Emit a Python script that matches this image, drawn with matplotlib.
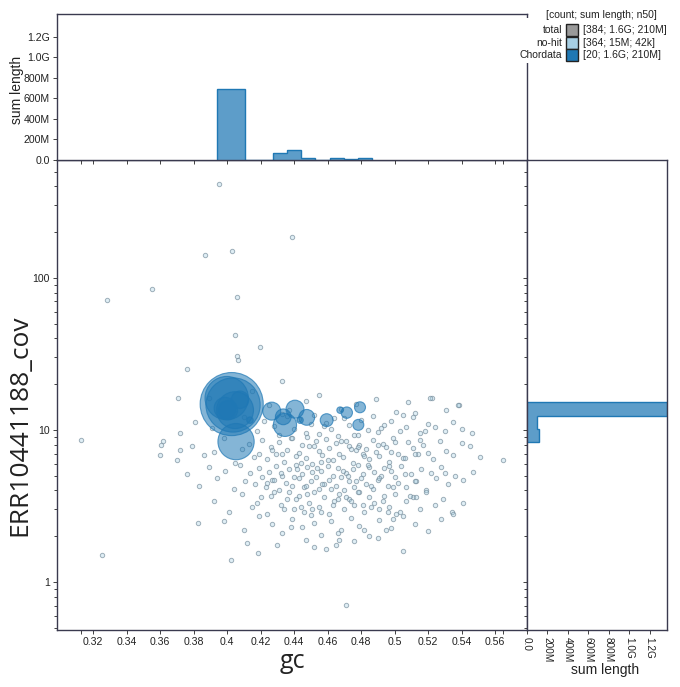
import matplotlib.pyplot as plt
import numpy as np
from matplotlib.patches import Rectangle
from matplotlib.ticker import FixedLocator, FuncFormatter, LogLocator, NullFormatter

plt.rcParams['font.family'] = ['Liberation Sans', 'DejaVu Sans']

# ---------------- data ----------------
# Chordata contigs: gc, coverage, length (bp)
chordata_gc = [0.4028, 0.4036, 0.3998, 0.4048, 0.4054, 0.4267, 0.4346, 0.4336, 0.4406, 0.4476,
               0.4595, 0.4715, 0.4794, 0.4784, 0.3988, 0.4078, 0.4436, 0.4137, 0.4006, 0.4675]
chordata_cov = [14.8, 14.6, 16.2, 13.5, 8.38, 13.3, 10.8, 12.2, 13.7, 12.1,
                11.6, 13.0, 14.1, 10.8, 13.9, 15.8, 11.6, 11.6, 13.5, 13.5]
chordata_len = [430e6, 318e6, 203e6, 147e6, 142e6, 35e6, 58e6, 27e6, 35e6, 27e6,
                18e6, 14e6, 13e6, 13e6, 51e6, 33e6, 4.5e6, 4.5e6, 40e6, 4.5e6]

# no-hit contigs: gc and coverage
nohit_gc = [
    0.3952, 0.403, 0.4388, 0.3869, 0.3552, 0.3284, 0.406, 0.4048, 0.406, 0.4066,
    0.4197, 0.3761, 0.3128, 0.3254, 0.471, 0.4328, 0.5224, 0.5385, 0.5648, 0.3606,
    0.360, 0.3719, 0.3827, 0.4185, 0.4669, 0.465, 0.4949, 0.5343, 0.4024, 0.3707,
    0.425, 0.447, 0.468, 0.489, 0.501, 0.512, 0.521, 0.538, 0.455, 0.389,
    0.415, 0.437, 0.477, 0.508, 0.531,
    0.372, 0.381, 0.391, 0.41, 0.418, 0.422, 0.428, 0.431, 0.436, 0.44,
    0.443, 0.447, 0.45, 0.452, 0.455, 0.459, 0.462, 0.466, 0.47, 0.473,
    0.476, 0.48, 0.484, 0.487, 0.49, 0.494, 0.498, 0.503, 0.507, 0.511,
    0.515, 0.52, 0.524, 0.53, 0.535, 0.54, 0.546, 0.433, 0.448, 0.458,
    0.464, 0.478, 0.492, 0.505, 0.518,
    0.392, 0.362, 0.37, 0.379, 0.386, 0.398, 0.405, 0.409, 0.413, 0.416,
    0.419, 0.421, 0.424, 0.426, 0.429, 0.431, 0.434, 0.436, 0.438, 0.441,
    0.443, 0.445, 0.447, 0.449, 0.451, 0.453, 0.455, 0.457, 0.459, 0.461,
    0.463, 0.465, 0.467, 0.469, 0.471, 0.473, 0.475, 0.477, 0.479, 0.481,
    0.483, 0.485, 0.487, 0.489, 0.491, 0.493, 0.495, 0.497, 0.499, 0.502,
    0.505, 0.508, 0.511, 0.514, 0.517, 0.52, 0.523, 0.527, 0.531, 0.535,
    0.54, 0.545, 0.551, 0.427, 0.439, 0.444, 0.452, 0.46, 0.468, 0.474,
    0.482, 0.49, 0.498, 0.506, 0.515, 0.433, 0.456, 0.478, 0.5, 0.512,
    0.376, 0.383, 0.389, 0.394, 0.399, 0.404, 0.408, 0.411, 0.414, 0.417,
    0.419, 0.421, 0.423, 0.425, 0.427, 0.429, 0.431, 0.433, 0.435, 0.437,
    0.439, 0.441, 0.443, 0.445, 0.446, 0.448, 0.45, 0.451, 0.453, 0.455,
    0.456, 0.458, 0.46, 0.461, 0.463, 0.465, 0.466, 0.468, 0.47, 0.471,
    0.473, 0.475, 0.476, 0.478, 0.48, 0.481, 0.483, 0.485, 0.487, 0.488,
    0.49, 0.492, 0.494, 0.496, 0.498, 0.5, 0.502, 0.504, 0.507, 0.51,
    0.513, 0.516, 0.519, 0.522, 0.525, 0.528, 0.532, 0.536, 0.541, 0.547,
    0.424, 0.432, 0.44, 0.447, 0.454, 0.462, 0.469, 0.477, 0.484, 0.491,
    0.499, 0.506, 0.428, 0.442, 0.457, 0.472, 0.486, 0.497, 0.512, 0.53,
    0.392, 0.401, 0.409, 0.415, 0.42, 0.424, 0.428, 0.432, 0.436, 0.44,
    0.443, 0.446, 0.449, 0.452, 0.455, 0.458, 0.461, 0.464, 0.467, 0.47,
    0.473, 0.476, 0.479, 0.482, 0.485, 0.488, 0.491, 0.494, 0.497, 0.5,
    0.503, 0.507, 0.511, 0.515, 0.519, 0.524, 0.529, 0.535, 0.541, 0.426,
    0.434, 0.441, 0.448, 0.456, 0.463, 0.471, 0.478, 0.486, 0.493, 0.501,
    0.509, 0.418, 0.437, 0.451, 0.466, 0.481, 0.496, 0.513, 0.444, 0.474,
    0.398, 0.41, 0.419, 0.427, 0.433, 0.439, 0.445, 0.45, 0.456, 0.462,
    0.468, 0.474, 0.479, 0.485, 0.491, 0.498, 0.505, 0.512, 0.52, 0.528,
    0.438, 0.452, 0.466, 0.482, 0.499,
    0.412, 0.447, 0.459, 0.476, 0.452, 0.49, 0.43, 0.505,
]
nohit_cov = [
    415, 150, 186, 141, 84.7, 71.6, 75, 42, 30.7, 28.9,
    35, 25.2, 8.6, 1.51, 0.706, 21, 16.2, 14.6, 6.36, 7.95,
    6.85, 7.4, 2.44, 1.55, 1.89, 1.75, 2.2, 2.9, 1.4, 16.2,
    14.5, 15.5, 13.8, 16.0, 13.2, 12.9, 16.3, 14.5, 17.0, 16.2,
    18.0, 13.5, 14.8, 15.2, 13.6,
    9.5, 11.2, 10.3, 12.1, 9.8, 11.5, 10.6, 9.2, 12.4, 10.1,
    11.8, 9.6, 10.9, 12.6, 9.4, 11.1, 10.2, 9.1, 12.0, 10.7,
    9.3, 11.6, 10.0, 12.3, 9.7, 10.8, 11.4, 9.9, 10.4, 12.2,
    9.5, 11.0, 10.5, 9.8, 11.3, 10.1, 9.6, 12.7, 9.0, 10.6,
    11.9, 9.2, 10.3, 12.5, 9.9,
    7.2, 8.5, 6.3, 7.9, 6.8, 8.8, 6.1, 7.5, 8.1, 6.6,
    7.0, 8.6, 6.4, 7.7, 6.9, 8.3, 6.2, 7.4, 8.9, 6.7,
    7.1, 8.0, 6.5, 7.8, 6.0, 8.4, 7.3, 6.8, 8.7, 7.6,
    6.3, 8.2, 7.0, 6.6, 8.5, 7.9, 6.1, 7.4, 8.0, 6.9,
    7.5, 6.4, 8.6, 7.2, 6.7, 8.1, 7.7, 6.2, 8.8, 7.0,
    6.5, 8.3, 7.6, 6.9, 8.0, 7.1, 6.4, 8.5, 7.3, 6.8,
    8.2, 7.8, 6.6, 7.4, 8.9, 6.1, 7.9, 6.3, 8.4, 7.5,
    6.7, 8.0, 7.2, 6.5, 8.6, 7.0, 6.2, 7.7, 8.3, 6.9,
    5.1, 4.3, 5.7, 4.8, 5.4, 4.1, 5.9, 4.6, 5.2, 4.4,
    5.6, 4.9, 4.2, 5.3, 4.7, 5.8, 4.0, 5.0, 4.5, 5.5,
    4.3, 5.9, 4.8, 5.1, 4.2, 5.7, 4.6, 5.3, 4.9, 4.1,
    5.4, 4.4, 5.8, 4.7, 5.0, 4.3, 5.6, 4.9, 4.0, 5.2,
    4.6, 5.5, 4.2, 5.9, 4.8, 5.1, 4.4, 5.7, 4.1, 5.3,
    4.7, 5.0, 5.6, 4.3, 5.4, 4.9, 4.5, 5.8, 4.2, 5.1,
    4.6, 5.5, 4.0, 5.2, 4.8, 5.7, 4.4, 5.0, 4.7, 5.3,
    4.5, 5.2, 4.9, 4.3, 5.6, 4.1, 5.4, 4.6, 5.9, 4.8,
    4.2, 5.1, 4.7, 5.5, 4.4, 5.0, 4.3, 5.8, 4.6, 5.2,
    3.4, 2.9, 3.8, 3.1, 3.6, 2.8, 3.9, 3.2, 3.5, 3.0,
    3.7, 2.9, 3.3, 3.9, 3.1, 3.6, 2.8, 3.4, 3.8, 3.0,
    3.5, 3.2, 3.9, 2.9, 3.6, 3.3, 3.0, 3.7, 3.1, 3.8,
    2.9, 3.4, 3.6, 3.0, 3.9, 3.2, 3.5, 2.8, 3.3, 3.7,
    3.0, 3.5, 3.8, 2.9, 3.2, 3.6, 3.9, 3.1, 3.4, 2.8,
    3.7, 3.3, 3.9, 3.0, 3.5, 3.2, 2.9, 3.6, 3.1, 3.4,
    2.5, 2.2, 2.7, 2.4, 2.1, 2.6, 2.3, 2.75, 2.05, 2.5,
    2.2, 2.65, 2.35, 2.0, 2.55, 2.25, 2.7, 2.4, 2.15, 2.6,
    2.3, 2.45, 2.1, 2.2, 2.6,
    1.8, 1.9, 1.65, 1.85, 1.7, 1.95, 1.75, 1.6,
]

# sum-length histograms (bins)
gc_bin_edges = [0.394, 0.4024, 0.4108, 0.4192, 0.4276, 0.436, 0.4444,
                0.4528, 0.4612, 0.4696, 0.478, 0.4864]
gc_bin_len = [695e6, 695e6, 0, 0, 71e6, 97e6, 20e6, 0, 15e6, 10e6, 20e6]

cov_bin_edges = [8.34, 10.15, 12.4, 15.3]
cov_bin_len = [115e6, 95e6, 1.37e9]

gc_ticks = [0.32, 0.34, 0.36, 0.38, 0.40, 0.42, 0.44, 0.46, 0.48, 0.50, 0.52, 0.54, 0.56]
gc_domain = [0.3128, 0.5648]
len_ticks = [0, 2e8, 4e8, 6e8, 8e8, 1e9, 1.2e9]
len_tick_labels = ['0.0', '200M', '400M', '600M', '800M', '1.0G', '1.2G']

legend_labels = ['total', 'no-hit', 'Chordata']
legend_values = ['[384; 1.6G; 210M]', '[364; 15M; 42k]', '[20; 1.6G; 210M]']
legend_colors = ['#999999', '#a6cee3', '#1f78b4']

# ---------------- layout ----------------
W, H = 680, 687
fig = plt.figure(figsize=(W / 100, H / 100), dpi=100)


def box(x0, y0, x1, y1):
    return [x0 / W, 1 - y1 / H, (x1 - x0) / W, (y1 - y0) / H]


def px_text(x, y, s, **kw):
    return fig.text(x / W, 1 - y / H, s, **kw)


ax = fig.add_axes(box(57, 160, 527, 630))
ax_top = fig.add_axes(box(57, 14, 527, 160))
ax_right = fig.add_axes(box(527, 160, 667, 630))

spine_col = '#3a3a4f'
txt_col = '#222222'
bar_fill = (0.12, 0.47, 0.71, 0.72)
xlim = (0.2985, 0.5791)
ylim = (0.483, 597)
len_max_top = 1.42e9
len_max_right = 1.37e9
tick_kw = dict(labelsize=7.6, colors=txt_col, length=3, width=0.6, pad=2)

# main scatter
ax.scatter(nohit_gc, nohit_cov, s=10, facecolor=(0.65, 0.81, 0.89, 0.35),
           edgecolor=(0.47, 0.56, 0.62, 0.7), linewidth=0.7, zorder=2)
sizes = np.array(chordata_len) * 4.8e-6
order = np.argsort(sizes)[::-1]
ax.scatter(np.array(chordata_gc)[order], np.array(chordata_cov)[order], s=sizes[order],
           facecolor=(0.12, 0.47, 0.71, 0.55), edgecolor=(0.12, 0.47, 0.71, 0.7),
           linewidth=0.8, zorder=3)
ax.set_yscale('log')
ax.set_xlim(xlim)
ax.set_ylim(ylim)
ax.xaxis.set_major_locator(FixedLocator(gc_ticks))
ax.xaxis.set_minor_locator(FixedLocator(gc_domain))
ax.xaxis.set_major_formatter(FuncFormatter(lambda v, p: '{:g}'.format(round(v, 2))))
ax.yaxis.set_major_locator(FixedLocator([1, 10, 100]))
ax.yaxis.set_major_formatter(FuncFormatter(lambda v, p: '{:g}'.format(v)))
ax.yaxis.set_minor_locator(LogLocator(base=10, subs=np.arange(2, 10)))
ax.yaxis.set_minor_formatter(NullFormatter())
ax.tick_params(which='both', **tick_kw)
ax.tick_params(axis='y', which='minor', length=2)

# top histogram
ax_top.stairs(gc_bin_len, gc_bin_edges, fill=True, facecolor=bar_fill, edgecolor='none')
ax_top.stairs(gc_bin_len, gc_bin_edges, fill=False, edgecolor='#1f78b4', linewidth=1.0)
ax_top.set_xlim(xlim)
ax_top.set_ylim(0, len_max_top)
ax_top.xaxis.set_major_locator(FixedLocator(gc_ticks))
ax_top.xaxis.set_minor_locator(FixedLocator(gc_domain))
ax_top.xaxis.set_major_formatter(NullFormatter())
ax_top.yaxis.set_major_locator(FixedLocator(len_ticks))
ax_top.set_yticklabels(len_tick_labels)
ax_top.tick_params(which='both', **tick_kw)

# right histogram
ax_right.stairs(cov_bin_len, cov_bin_edges, fill=True, orientation='horizontal',
                facecolor=bar_fill, edgecolor='none')
ax_right.stairs(cov_bin_len, cov_bin_edges, fill=False, orientation='horizontal',
                edgecolor='#1f78b4', linewidth=1.0)
ax_right.set_yscale('log')
ax_right.set_ylim(ylim)
ax_right.set_xlim(0, len_max_right)
ax_right.yaxis.set_major_locator(FixedLocator([1, 10, 100]))
ax_right.yaxis.set_minor_locator(LogLocator(base=10, subs=np.arange(2, 10)))
ax_right.yaxis.set_major_formatter(NullFormatter())
ax_right.yaxis.set_minor_formatter(NullFormatter())
ax_right.xaxis.set_major_locator(FixedLocator(len_ticks))
ax_right.set_xticklabels(len_tick_labels, rotation=-90)
ax_right.tick_params(which='both', **tick_kw)
ax_right.tick_params(axis='x', labelsize=7.2)
ax_right.tick_params(axis='y', which='minor', length=2)

for a in (ax, ax_top, ax_right):
    for s in a.spines.values():
        s.set_color(spine_col)
        s.set_linewidth(1.0)

# axis titles
big_font = ['Open Sans', 'DejaVu Sans']
px_text(292, 668, 'gc', ha='center', va='baseline', fontsize=18, family=big_font, color=txt_col)
px_text(20, 425, 'ERR10441188_cov', ha='center', va='center', rotation=90, fontsize=19,
        family=big_font, color=txt_col)
px_text(17, 90, 'sum length', ha='center', va='center', rotation=90, fontsize=10, color=txt_col)
px_text(605, 670, 'sum length', ha='center', va='center', fontsize=10, color=txt_col)

# legend
fig.add_artist(Rectangle((518 / W, 1 - 63 / H), 146 / W, 45 / H, transform=fig.transFigure,
                         facecolor='white', edgecolor='none', zorder=5))
px_text(657, 15, '[count; sum length; n50]', ha='right', va='center',
        fontsize=7.5, color=txt_col, zorder=6)
for i, (lab, val, col) in enumerate(zip(legend_labels, legend_values, legend_colors)):
    yc = 30 + i * 12.7
    px_text(562, yc, lab, ha='right', va='center', fontsize=7.5, color=txt_col, zorder=6)
    fig.add_artist(Rectangle((566 / W, 1 - (yc + 6) / H), 12 / W, 12 / H,
                             transform=fig.transFigure, facecolor=col,
                             edgecolor=txt_col, linewidth=1, zorder=6))
    px_text(583, yc, val, ha='left', va='center', fontsize=7.5, color=txt_col, zorder=6)

fig.savefig('out.png', dpi=100)
